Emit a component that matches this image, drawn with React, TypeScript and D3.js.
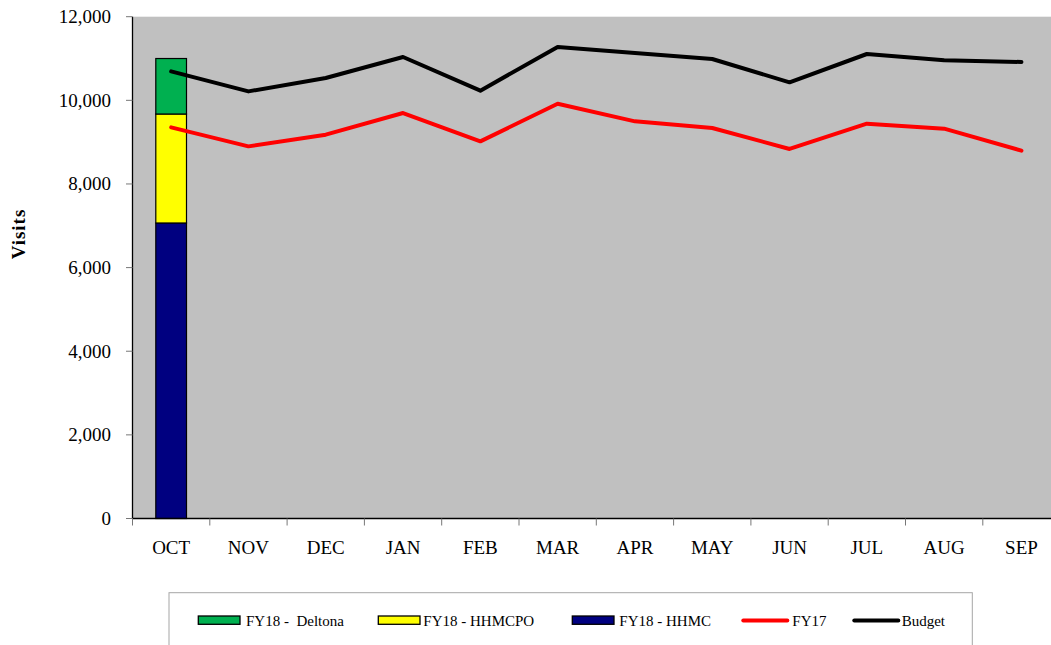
import React from "react";
import * as d3 from "d3";

const months = ["OCT", "NOV", "DEC", "JAN", "FEB", "MAR", "APR", "MAY", "JUN", "JUL", "AUG", "SEP"];
const fy18Hhmc = [7067, null, null, null, null, null, null, null, null, null, null, null];
const fy18Hhmcpo = [2606, null, null, null, null, null, null, null, null, null, null, null];
const fy18Deltona = [1327, null, null, null, null, null, null, null, null, null, null, null];
const fy17 = [9353, 8899, 9179, 9697, 9019, 9920, 9497, 9339, 8837, 9442, 9322, 8796];
const budget = [10692, 10214, 10534, 11036, 10231, 11276, 11132, 10989, 10430, 11108, 10956, 10917];
const yTicks = [0, 2000, 4000, 6000, 8000, 10000, 12000];

const stackSeries = [
  { name: "FY18 - HHMC", values: fy18Hhmc, color: "#000080" },
  { name: "FY18 - HHMCPO", values: fy18Hhmcpo, color: "#FFFF00" },
  { name: "FY18 -  Deltona", values: fy18Deltona, color: "#00B050" },
];

const FONT = "'Liberation Serif', 'Times New Roman', serif";

export default function App() {
  const W = 1051, H = 645;
  const left = 132.5, top = 16.7, bottom = 518.5;
  const band = 77.3;
  const right = left + band * months.length;

  const x = d3.scaleBand<string>().domain(months).range([left, right]).paddingInner(0).paddingOuter(0);
  const y = d3.scaleLinear().domain([0, 12000]).range([bottom, top]);
  const barW = 30.7;

  const rows = months.map((m, i) => ({
    m,
    hhmc: fy18Hhmc[i] ?? 0,
    hhmcpo: fy18Hhmcpo[i] ?? 0,
    deltona: fy18Deltona[i] ?? 0,
  }));
  const stacked = d3.stack<any>().keys(["hhmc", "hhmcpo", "deltona"])(rows);

  const cx = (m: string) => (x(m) as number) + x.bandwidth() / 2;
  const line = d3.line<number>().x((_, i) => cx(months[i])).y((v) => y(v));

  const legendItems = [
    { type: "rect", color: "#00B050", label: "FY18 -  Deltona", sx: 198.3, tx: 246 },
    { type: "rect", color: "#FFFF00", label: "FY18 - HHMCPO", sx: 378.3, tx: 423.3 },
    { type: "rect", color: "#000080", label: "FY18 - HHMC", sx: 572.3, tx: 619.3 },
    { type: "line", color: "#FF0000", label: "FY17", sx: 743.3, tx: 792.3 },
    { type: "line", color: "#000000", label: "Budget", sx: 854.3, tx: 901.7 },
  ];

  return (
    <svg width={W} height={H} style={{ position: "absolute", left: 0, top: 0, background: "#fff" }} fontFamily={FONT}>
      <rect x={0} y={0} width={W} height={H} fill="#fff" />
      <rect x={left} y={top} width={right - left} height={bottom - top} fill="#C0C0C0" />
      {/* bars */}
      {stacked.map((s, si) =>
        s.map((d, i) => {
          const v = d[1] - d[0];
          if (!v) return null;
          return (
            <rect
              key={`${si}-${i}`}
              x={cx(months[i]) - barW / 2}
              y={y(d[1])}
              width={barW}
              height={y(d[0]) - y(d[1])}
              fill={stackSeries[si].color}
              stroke="#000"
              strokeWidth={1.2}
            />
          );
        })
      )}
      {/* lines */}
      <path d={line(fy17) as string} fill="none" stroke="#FF0000" strokeWidth={4} strokeLinejoin="round" strokeLinecap="round" />
      <path d={line(budget) as string} fill="none" stroke="#000000" strokeWidth={4} strokeLinejoin="round" strokeLinecap="round" />
      {/* axes */}
      <line x1={left} x2={left} y1={top} y2={bottom} stroke="#000" strokeWidth={1.3} />
      <line x1={left} x2={right} y1={bottom} y2={bottom} stroke="#000" strokeWidth={1.3} />
      {yTicks.map((t) => (
        <g key={t}>
          <line x1={left - 6.5} x2={left} y1={y(t)} y2={y(t)} stroke="#777" strokeWidth={1} />
          <text x={111} y={y(t) + 6.5} textAnchor="end" fontSize={19} fill="#000">
            {d3.format(",")(t)}
          </text>
        </g>
      ))}
      {d3.range(months.length + 1).map((i) => (
        <line key={i} x1={left + i * band} x2={left + i * band} y1={bottom} y2={bottom + 7} stroke="#777" strokeWidth={1} />
      ))}
      {months.map((m) => (
        <text key={m} x={cx(m)} y={553.5} textAnchor="middle" fontSize={19} fill="#000">
          {m}
        </text>
      ))}
      <text
        transform={`translate(24.5,234) rotate(-90)`}
        textAnchor="middle"
        fontSize={19}
        fontWeight="bold"
        letterSpacing={1}
        fill="#000"
      >
        Visits
      </text>
      {/* legend */}
      <rect x={169} y={592.7} width={972.3 - 169} height={70} fill="#fff" stroke="#A6A6A6" strokeWidth={1} />
      {legendItems.map((it) => (
        <g key={it.label}>
          {it.type === "rect" ? (
            <rect x={it.sx} y={616} width={41.7} height={8.3} fill={it.color} stroke="#000" strokeWidth={1.3} />
          ) : (
            <line x1={it.sx} x2={it.sx + 44} y1={620.5} y2={620.5} stroke={it.color} strokeWidth={4} strokeLinecap="round" />
          )}
          <text x={it.tx} y={625.5} fontSize={15} fill="#000" style={{ whiteSpace: "pre" }}>
            {it.label}
          </text>
        </g>
      ))}
    </svg>
  );
}
